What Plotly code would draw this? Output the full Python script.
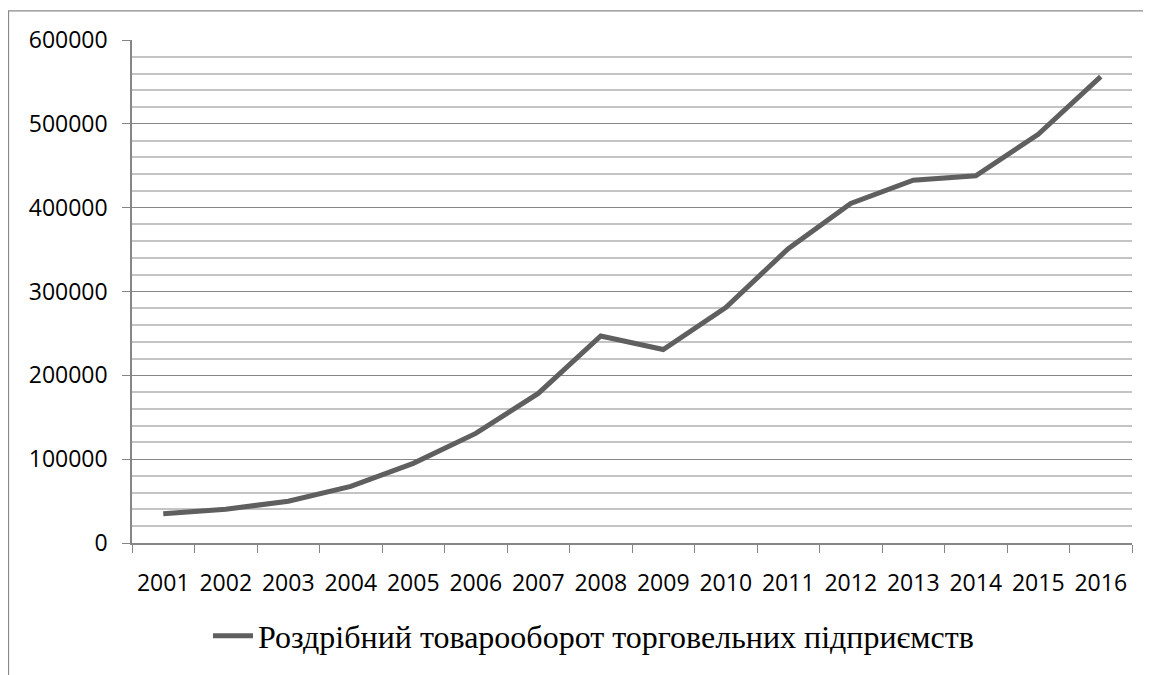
import plotly.graph_objects as go

years = ["2001", "2002", "2003", "2004", "2005", "2006", "2007", "2008",
         "2009", "2010", "2011", "2012", "2013", "2014", "2015", "2016"]
turnover = [34900, 40300, 49800, 67600, 95000, 130700, 178400, 246900,
            230800, 280900, 351100, 405100, 432700, 438100, 487600, 556300]
series_name = "Роздрібний товарооборот торговельних підприємств"

# page body has an 8px margin, so the figure starts at (8, 8) in the window
OFF = 8
W, H = 1151 - OFF, 675 - OFF
L, T = 132 - OFF, 40 - OFF
R = W - (1132 - OFF)
B = H - (548 - OFF)
pw, ph = W - L - R, H - T - B

def px_x(x):
    return (x - OFF - L) / pw

def px_y(y):
    return (H - B - (y - OFF)) / ph

fig = go.Figure()
fig.add_trace(go.Scatter(
    x=years, y=turnover, mode="lines", name=series_name,
    line=dict(color="#5f5f5f", width=5),
))

tick_font = dict(family="Open Sans", size=23, color="#000000")
fig.update_layout(
    width=W, height=H,
    margin=dict(l=L, r=R, t=T, b=B),
    paper_bgcolor="white", plot_bgcolor="white",
    showlegend=True,
    legend=dict(
        orientation="h", x=px_x(208), y=px_y(642), xanchor="left", yanchor="middle",
        font=dict(family="Liberation Serif", size=32, color="#000000"),
        itemwidth=40, bgcolor="rgba(0,0,0,0)",
    ),
    xaxis=dict(
        type="category", range=[-0.5, 15.5],
        tickson="boundaries", ticks="outside", ticklen=8, tickcolor="#868686",
        showline=True, linecolor="#868686", linewidth=1.5,
        showgrid=False, tickfont=tick_font, ticklabelstandoff=19,
    ),
    yaxis=dict(
        range=[0, 600000], dtick=100000, tickformat="d",
        ticks="outside", ticklen=8, tickcolor="#868686",
        showline=True, linecolor="#868686", linewidth=1.5,
        showgrid=True, gridcolor="#868686", gridwidth=1,
        minor=dict(dtick=20000, showgrid=True, gridcolor="#c4c4c4", gridwidth=1.5, ticks=""),
        zeroline=False, tickfont=tick_font, ticklabelstandoff=10,
    ),
)

fig.add_shape(
    type="rect", xref="paper", yref="paper",
    x0=px_x(8.5), x1=px_x(1170), y0=px_y(700), y1=px_y(10.5),
    line=dict(color="#8a8a8a", width=1.3), fillcolor="rgba(0,0,0,0)", layer="below",
)

fig.write_html("out.html")
